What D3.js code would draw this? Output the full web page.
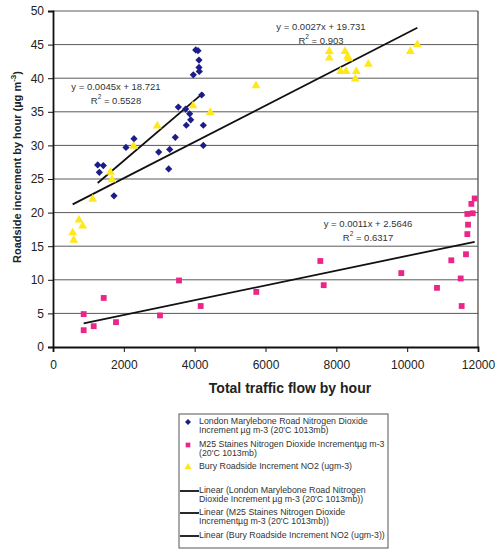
<!DOCTYPE html>
<html>
<head>
<meta charset="utf-8">
<script src="https://cdn.jsdelivr.net/npm/d3@7"></script>
<style>
  html, body { margin: 0; padding: 0; background: #fff; }
  svg { display: block; font-family: "Liberation Sans", Arial, sans-serif; }
</style>
</head>
<body>
<svg id="chart" width="497" height="554"></svg>
<script>
// Hourly traffic flow vs roadside NO2 increment at three sites
const marylebone = [
  [4030, 44.2], [4094, 44.1], [4122, 42.7], [4122, 41.6], [4131, 41.0], [3962, 40.5],
  [4198, 37.5], [3538, 35.7], [3746, 35.4], [3859, 34.7], [3888, 33.8], [3764, 33.0],
  [4244, 33.0], [3453, 31.2], [2287, 31.0], [2061, 29.7], [2984, 29.0], [3295, 29.4],
  [4244, 30.0], [3266, 26.5], [1262, 27.1], [1421, 27.0], [1308, 26.0], [1722, 22.5]
];
const staines = [
  [866, 4.9], [866, 2.5], [1149, 3.1], [1432, 7.3], [1779, 3.7], [3021, 4.7],
  [3558, 9.9], [4170, 6.1], [5740, 8.2], [7548, 12.8], [7643, 9.2], [9834, 11.0],
  [10842, 8.8], [11246, 12.9], [11511, 10.2], [11539, 6.1], [11661, 13.8], [11699, 16.8],
  [11718, 18.2], [11699, 19.8], [11850, 19.9], [11812, 21.3], [11906, 22.1]
];
const bury = [
  [5732, 38.9], [3953, 35.9], [4442, 34.9], [2946, 32.9], [2278, 29.9], [1619, 26.0],
  [1666, 24.9], [1120, 22.0], [734, 18.9], [838, 18.0], [555, 17.0], [584, 15.9],
  [7803, 44.0], [7803, 43.0], [8245, 44.0], [8320, 43.2], [8348, 42.9], [8122, 41.0],
  [8273, 41.0], [8564, 41.0], [8536, 39.9], [8903, 42.1], [10089, 44.0], [10287, 45.0]
];

// Fitted linear trends: [slope, intercept, R²]
const fitMarylebone = [0.0045, 18.721, 0.5528];
const fitStaines = [0.0011, 2.5646, 0.6317];
const fitBury = [0.0027, 19.731, 0.903];

const xTicks = [0, 2000, 4000, 6000, 8000, 10000, 12000];
const yTicks = [0, 5, 10, 15, 20, 25, 30, 35, 40, 45, 50];

const legendLabels = [
  ["London Marylebone Road Nitrogen Dioxide", "Increment \u00b5g m-3 (20'C 1013mb)"],
  ["M25 Staines Nitrogen Dioxide Increment\u00b5g m-3", "(20'C 1013mb)"],
  ["Bury Roadside Increment NO2 (ugm-3)"],
  ["Linear (London Marylebone Road Nitrogen", "Dioxide Increment \u00b5g m-3 (20'C 1013mb))"],
  ["Linear (M25 Staines Nitrogen Dioxide", "Increment\u00b5g m-3 (20'C 1013mb))"],
  ["Linear (Bury Roadside Increment NO2 (ugm-3))"]
];

const colors = { marylebone: "#1c1c8a", staines: "#ec2689", bury: "#ffe81a" };

const svg = d3.select("#chart");
const plot = { left: 53, right: 478, top: 11, bottom: 347 };

const x = d3.scaleLinear().domain([0, 12000]).range([plot.left, plot.right]);
const y = d3.scaleLinear().domain([0, 50]).range([plot.bottom, plot.top]);

// horizontal gridlines
svg.append("g")
  .selectAll("line")
  .data(yTicks.filter(d => d > 0))
  .join("line")
  .attr("x1", plot.left).attr("x2", plot.right)
  .attr("y1", d => y(d)).attr("y2", d => y(d))
  .attr("stroke", "#5a5a5a").attr("stroke-width", 1);

// right border of the plot area
svg.append("line")
  .attr("x1", plot.right).attr("x2", plot.right)
  .attr("y1", plot.top).attr("y2", plot.bottom)
  .attr("stroke", "#444").attr("stroke-width", 1.2);

// axes
const xAxis = svg.append("g")
  .attr("transform", `translate(0,${plot.bottom})`)
  .call(d3.axisBottom(x).tickValues(xTicks).tickSize(5).tickPadding(8).tickFormat(d3.format("d")));
const yAxis = svg.append("g")
  .attr("transform", `translate(${plot.left},0)`)
  .call(d3.axisLeft(y).tickValues(yTicks).tickSize(5).tickPadding(4).tickFormat(d3.format("d")));

[xAxis, yAxis].forEach(g => {
  g.select(".domain").attr("stroke", "#111").attr("stroke-width", 1.8);
  g.selectAll(".tick line").attr("stroke", "#111").attr("stroke-width", 1);
  g.selectAll(".tick text")
    .attr("font-family", "Liberation Sans, Arial, sans-serif")
    .attr("font-size", 12).attr("fill", "#222");
});

// axis titles
svg.append("text")
  .attr("x", 290).attr("y", 389)
  .attr("text-anchor", "middle").attr("dominant-baseline", "middle")
  .attr("font-size", 14).attr("font-weight", "bold").attr("fill", "#222")
  .text("Total traffic flow by hour");

const yTitle = svg.append("text")
  .attr("transform", "translate(18,167) rotate(-90)")
  .attr("text-anchor", "middle").attr("dominant-baseline", "middle")
  .attr("font-size", 11).attr("font-weight", "bold").attr("fill", "#222");
yTitle.append("tspan").text("Roadside increment by hour (\u00b5g m");
yTitle.append("tspan").attr("dy", -4).attr("font-size", 8).text("-3");
yTitle.append("tspan").attr("dy", 4).text(")");

// trend lines drawn from each fitted equation across its data range
function trend(data, fit) {
  const xs = d3.extent(data, d => d[0]);
  return xs.map(v => [v, fit[0] * v + fit[1]]);
}
const lineGen = d3.line().x(d => x(d[0])).y(d => y(d[1]));
[[marylebone, fitMarylebone], [staines, fitStaines], [bury, fitBury]].forEach(([data, fit]) => {
  svg.append("path")
    .attr("d", lineGen(trend(data, fit)))
    .attr("fill", "none").attr("stroke", "#111").attr("stroke-width", 1.8);
});

// markers: a square diamond (rotated square) for the Marylebone series
const squareDiamond = {
  draw(ctx, size) {
    const r = Math.sqrt(size / 2);
    ctx.moveTo(0, -r); ctx.lineTo(r, 0); ctx.lineTo(0, r); ctx.lineTo(-r, 0); ctx.closePath();
  }
};
const diamond = d3.symbol().type(squareDiamond).size(26);
const square = d3.symbol().type(d3.symbolSquare).size(34);
const triangle = d3.symbol().type(d3.symbolTriangle).size(34);

svg.append("g").selectAll("path").data(staines).join("path")
  .attr("transform", d => `translate(${x(d[0])},${y(d[1])})`)
  .attr("d", square).attr("fill", colors.staines);
svg.append("g").selectAll("path").data(bury).join("path")
  .attr("transform", d => `translate(${x(d[0])},${y(d[1])})`)
  .attr("d", triangle).attr("fill", colors.bury);
svg.append("g").selectAll("path").data(marylebone).join("path")
  .attr("transform", d => `translate(${x(d[0])},${y(d[1])})`)
  .attr("d", diamond).attr("fill", colors.marylebone);

// equation labels
function eqLabel(fit, cx, cy) {
  const g = svg.append("g").attr("font-size", 9.5).attr("fill", "#333").attr("text-anchor", "middle");
  const sign = fit[1] >= 0 ? "+" : "-";
  g.append("text").attr("x", cx).attr("y", cy).attr("dominant-baseline", "middle")
    .text(`y = ${fit[0]}x ${sign} ${Math.abs(fit[1])}`);
  const r = g.append("text").attr("x", cx).attr("y", cy + 14).attr("dominant-baseline", "middle");
  r.append("tspan").text("R");
  r.append("tspan").attr("dy", -4).attr("font-size", 6.5).text("2");
  r.append("tspan").attr("dy", 4).text(` = ${fit[2]}`);
}
eqLabel(fitMarylebone, 116, 87);
eqLabel(fitBury, 321, 27);
eqLabel(fitStaines, 368, 224);

// legend
const lg = svg.append("g");
lg.append("rect")
  .attr("x", 179).attr("y", 414).attr("width", 209).attr("height", 134)
  .attr("fill", "#fff").attr("stroke", "#555").attr("stroke-width", 1);

const entryY = [422, 445, 467, 491, 513, 536];
const lineH = 9;
legendLabels.forEach((lines, i) => {
  const cy = entryY[i];
  if (i === 0) lg.append("path").attr("transform", `translate(188,${cy})`).attr("d", d3.symbol().type(squareDiamond).size(18)).attr("fill", colors.marylebone);
  if (i === 1) lg.append("path").attr("transform", `translate(188,${cy})`).attr("d", d3.symbol().type(d3.symbolSquare).size(22)).attr("fill", colors.staines);
  if (i === 2) lg.append("path").attr("transform", `translate(188,${cy})`).attr("d", d3.symbol().type(d3.symbolTriangle).size(22)).attr("fill", colors.bury);
  if (i >= 3) lg.append("line").attr("x1", 180).attr("x2", 199).attr("y1", cy).attr("y2", cy).attr("stroke", "#111").attr("stroke-width", 1.8);
  const t = lg.append("text").attr("font-size", 8.8).attr("fill", "#333");
  lines.forEach((s, j) => {
    t.append("tspan").attr("x", 199).attr("y", cy + j * lineH).attr("dominant-baseline", "middle").text(s);
  });
});
</script>
</body>
</html>
